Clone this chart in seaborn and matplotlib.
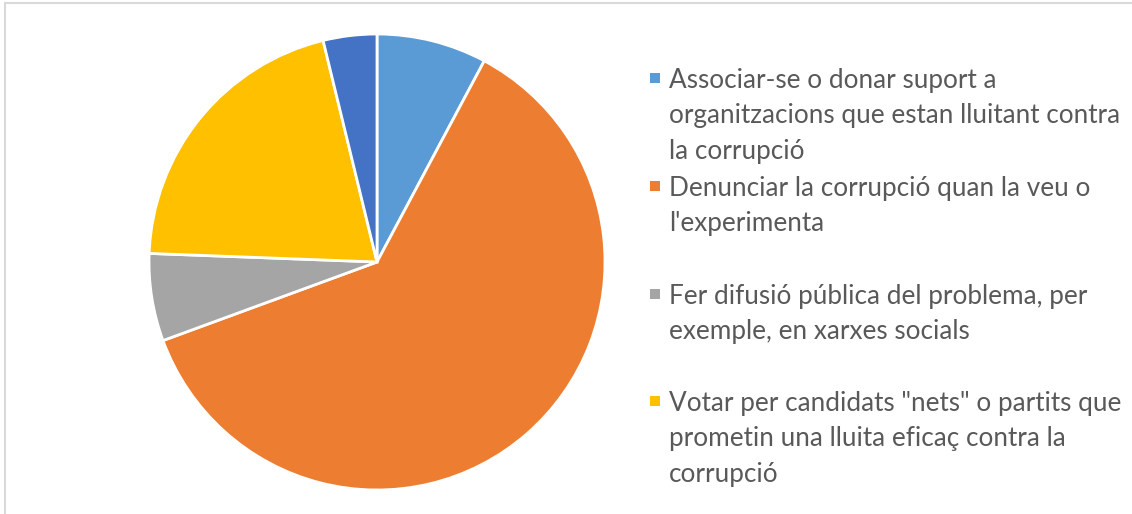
import matplotlib
matplotlib.use("Agg")
import matplotlib.pyplot as plt
import seaborn as sns
from matplotlib.patches import Rectangle

sns.set_theme(style="white")
plt.rcParams['font.family'] = ['Lato', 'DejaVu Sans']

# Data
labels = [
    "Associar-se o donar suport a\norganitzacions que estan lluitant contra\nla corrupció",
    "Denunciar la corrupció quan la veu o\nl'experimenta",
    "Fer difusió pública del problema, per\nexemple, en xarxes socials",
    "Votar per candidats \"nets\" o partits que\nprometin una lluita eficaç contra la\ncorrupció",
    "",
]
values = [7.8, 61.6, 6.2, 20.6, 3.8]
colors = ["#5B9BD5", "#ED7D31", "#A5A5A5", "#FFC000", "#4472C4"]
n_legend = 4  # only the first four entries are visible in the legend

W, H = 1132, 514
fig = plt.figure(figsize=(W / 100, H / 100), dpi=100)
fig.patch.set_facecolor("white")

# chart border
fig.patches.append(Rectangle((5 / W, -0.1), 1.2, (H - 3) / H + 0.1,
                             transform=fig.transFigure, fill=False,
                             edgecolor="#D9D9D9", linewidth=1.5))

cx, cy, r = 377, 262, 228
ax = fig.add_axes([(cx - r) / W, (H - cy - r) / H, 2 * r / W, 2 * r / H])
ax.pie(values, colors=colors, startangle=90, counterclock=False, radius=1,
       wedgeprops=dict(edgecolor="white", linewidth=2.0))
ax.set_xlim(-1, 1)
ax.set_ylim(-1, 1)
ax.set_aspect("auto")
ax.axis("off")

# legend (manual)
entry_y = [78, 186, 294, 401]
for i in range(n_legend):
    y = entry_y[i]
    fig.patches.append(Rectangle((650 / W, (H - y - 5) / H), 10 / W, 10 / H,
                                 transform=fig.transFigure, facecolor=colors[i],
                                 edgecolor="none"))
    fig.text(669 / W, (H - y + 10) / H, labels[i], ha="left", va="top",
             fontsize=18.8, color="#595959", linespacing=1.52)

fig.savefig("out.png", dpi=100, facecolor="white")
